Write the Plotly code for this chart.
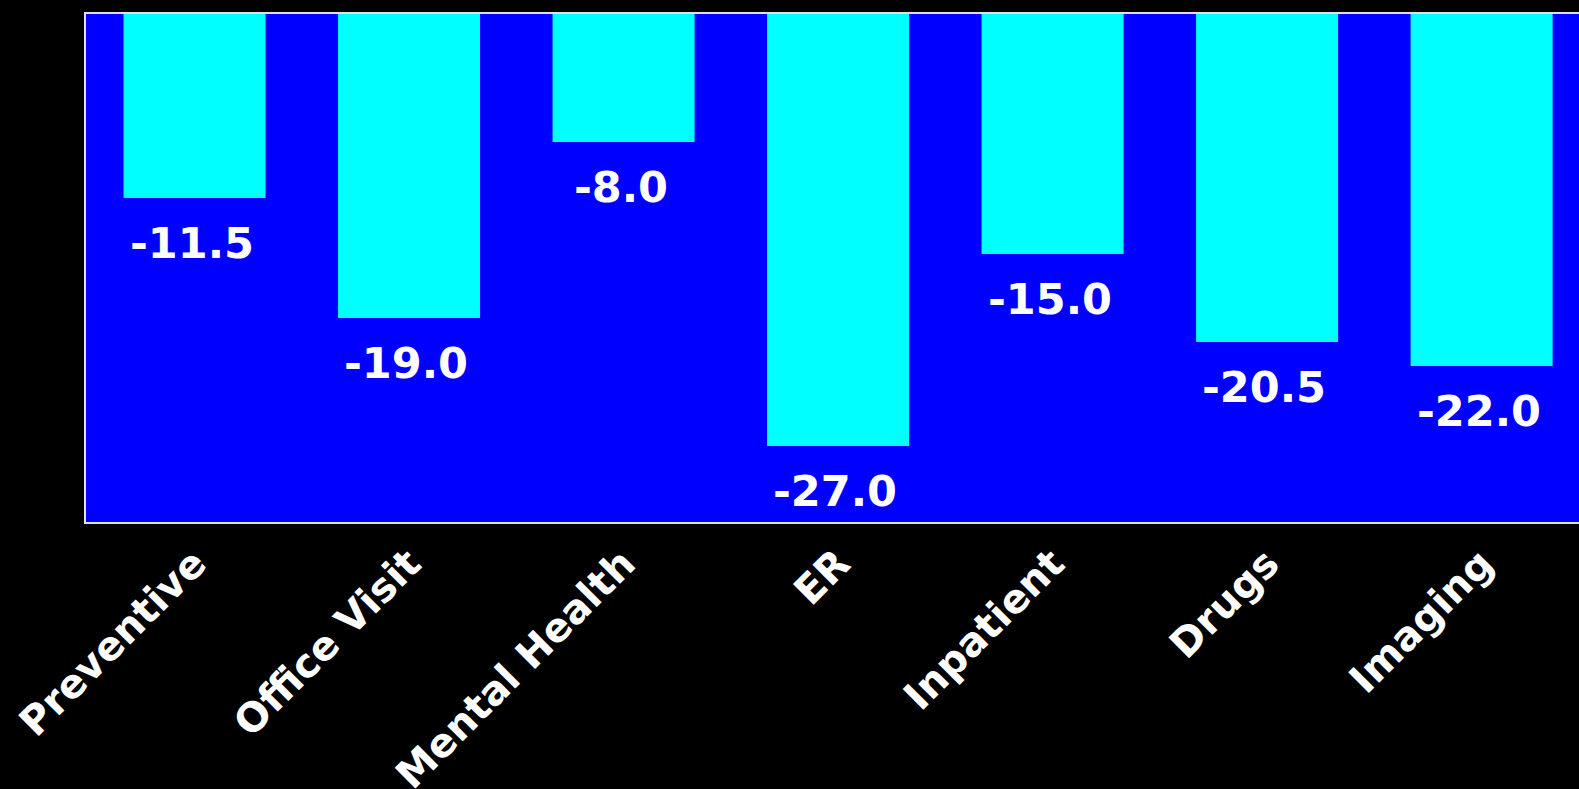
import plotly.graph_objects as go

categories = ["Preventive", "Office Visit", "Mental Health", "ER", "Inpatient", "Drugs", "Imaging"]
values = [-11.5, -19.0, -8.0, -27.0, -15.0, -20.5, -22.0]
value_labels = [f"{v:.1f}" for v in values]

W, H = 1579, 789
L, T, B, R = 86, 14, 267, 0

fig = go.Figure()
fig.add_trace(go.Bar(
    x=categories, y=values,
    marker=dict(color="#00FFFF", line=dict(width=0)),
    width=0.662,
    hoverinfo="skip",
))

for c, v, t in zip(categories, values, value_labels):
    fig.add_annotation(
        x=c, y=v, text=t, showarrow=False, yanchor="top", xanchor="center",
        yshift=-18, xshift=-3,
        font=dict(family="DejaVu Sans", size=43, color="white", weight="bold"),
    )

fig.update_layout(
    width=W, height=H,
    margin=dict(l=L, r=R, t=T, b=B, pad=0, autoexpand=False),
    paper_bgcolor="black",
    plot_bgcolor="#0000FF",
    showlegend=False,
    xaxis=dict(
        type="category",
        range=[-0.506, 6.454],
        automargin=False,
        showgrid=False, zeroline=False,
        showline=True, linecolor="#E0E0E0", linewidth=2, mirror=True,
        ticks="", tickangle=-45,
        tickfont=dict(family="DejaVu Sans", size=40, color="white", weight="bold"),
    ),
    yaxis=dict(
        range=[-31.75, 0],
        automargin=False,
        showgrid=False, zeroline=False,
        showline=True, linecolor="#E0E0E0", linewidth=2, mirror=False,
        showticklabels=False, ticks="",
    ),
)

fig.write_html("out.html")
